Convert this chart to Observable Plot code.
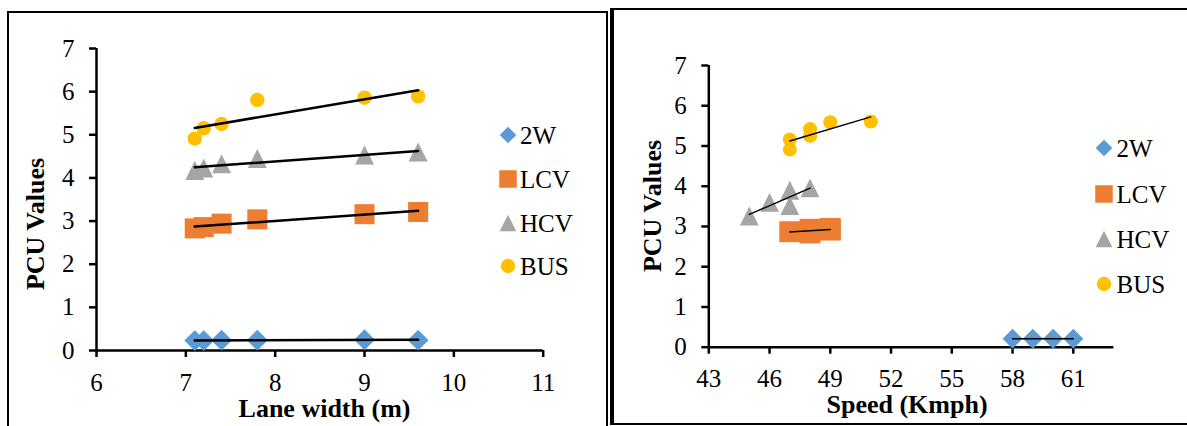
<!DOCTYPE html>
<html>
<head>
<meta charset="utf-8">
<script src="https://cdn.jsdelivr.net/npm/d3@7"></script>
<script src="https://cdn.jsdelivr.net/npm/@observablehq/plot@0.6"></script>
<style>
html, body { margin: 0; padding: 0; background: #fff; }
body { width: 1187px; height: 426px; position: relative; overflow: hidden;
       font-family: "Liberation Serif", serif; color: #000; }
.panel { position: absolute; box-sizing: border-box; border: 2px solid #000; }
.chart { position: absolute; top: 0; }
.chart svg text { font-family: "Liberation Serif", serif; }
.title { position: absolute; font-family: "Liberation Serif", serif; font-weight: bold;
         font-size: 26px; line-height: 16px; white-space: nowrap; }
.lg-row { position: absolute; height: 25px; font-family: "Liberation Serif", serif;
          font-size: 25px; line-height: 25px; white-space: nowrap; }
.lg-sym { position: absolute; overflow: visible; }
</style>
</head>
<body>
<div class="panel" style="left:7px; top:11px; width:601px; height:440px;"></div>
<div class="panel" style="left:610px; top:8px; width:620px; height:417px; border-left-width:4px;"></div>
<div id="c1" class="chart" style="left:0px;"></div>
<div id="c2" class="chart" style="left:612px;"></div>
<div class="title" style="left:324.5px; top:401.2px; transform:translateX(-50%);">Lane width (m)</div>
<div class="title" style="left:907px; top:396.9px; transform:translateX(-50%);">Speed (Kmph)</div>
<div class="title" style="left:36.2px; top:224px; transform:translate(-50%,-50%) rotate(-90deg);">PCU Values</div>
<div class="title" style="left:652.9px; top:206px; transform:translate(-50%,-50%) rotate(-90deg);">PCU Values</div>
<div id="lg1"></div>
<div id="lg2"></div>
<script>
// ---- data ----
const seriesNames = ["2W", "LCV", "HCV", "BUS"];
const seriesColors = ["#5B9BD5", "#ED7D31", "#A5A5A5", "#FFC000"];

// Chart 1: PCU vs lane width
const laneWidth = [7.1, 7.2, 7.4, 7.8, 9.0, 9.6];
const lanePCU2W  = [0.23, 0.23, 0.24, 0.24, 0.25, 0.24];
const lanePCULCV = [2.83, 2.86, 2.94, 3.04, 3.16, 3.21];
const lanePCUHCV = [4.17, 4.23, 4.33, 4.45, 4.53, 4.60];
const lanePCUBUS = [4.91, 5.15, 5.25, 5.81, 5.86, 5.89];
const laneTicks = [6, 7, 8, 9, 10, 11];

// Chart 2: PCU vs speed
const speed2W  = [58, 59, 60, 61];
const speedPCU2W  = [0.21, 0.21, 0.21, 0.21];
const speedLCV = [47, 48, 48, 49, 49];
const speedPCULCV = [2.87, 2.84, 2.93, 2.91, 2.95];
const speedHCV = [45, 46, 47, 47, 48];
const speedPCUHCV = [3.26, 3.60, 3.90, 3.52, 3.96];
const speedBUS = [47, 47, 48, 48, 49, 51];
const speedPCUBUS = [4.91, 5.16, 5.25, 5.42, 5.59, 5.61];
const speedTicks = [43, 46, 49, 52, 55, 58, 61];

const pcuTicks = [0, 1, 2, 3, 4, 5, 6, 7];

// ---- symbols ----
const triangleSym = {
  draw(ctx, size) {
    const s = Math.sqrt(size);
    ctx.moveTo(0, -s / 2);
    ctx.lineTo(s / 2, s / 2);
    ctx.lineTo(-s / 2, s / 2);
    ctx.closePath();
  }
};
const seriesSymbols = [d3.symbolDiamond2, d3.symbolSquare, triangleSym, d3.symbolCircle];

function rows(xs, ys) { return xs.map((x, i) => ({x, y: ys[i]})); }

const FONT = '"Liberation Serif", serif';

function makeChart(cfg) {
  const marks = [
    Plot.axisX({ticks: cfg.xTicks, tickFormat: (d) => String(d), tickSize: 7, tickPadding: cfg.xPad,
                strokeWidth: 2.5, fontSize: 25, fontFamily: FONT, label: null}),
    Plot.axisY({ticks: pcuTicks, tickFormat: (d) => String(d), tickSize: 7, tickPadding: 15,
                strokeWidth: 2.5, fontSize: 25, fontFamily: FONT, label: null}),
    Plot.ruleX([cfg.xDomain[0]], {stroke: "#000", strokeWidth: 2.5}),
    Plot.ruleY([0], {stroke: "#000", strokeWidth: 2.5})
  ];
  cfg.data.forEach((d, i) => {
    marks.push(Plot.dot(d, {x: "x", y: "y", fill: seriesColors[i], stroke: "none",
      symbol: seriesSymbols[i], r: cfg.radii[i]}));
  });
  cfg.data.forEach((d) => {
    marks.push(Plot.linearRegressionY(d, {x: "x", y: "y", stroke: "#000",
      strokeWidth: cfg.trendWidth, ci: 0}));
  });
  return Plot.plot({
    width: cfg.width, height: 426,
    marginLeft: cfg.marginLeft, marginRight: cfg.marginRight,
    marginTop: cfg.marginTop, marginBottom: cfg.marginBottom,
    x: {domain: cfg.xDomain, label: null},
    y: {domain: [0, 7], label: null},
    style: 'font-family: "Liberation Serif", serif; font-size: 25px; color: #000; background: transparent; overflow: visible;',
    marks
  });
}

document.getElementById("c1").appendChild(makeChart({
  width: 607, marginLeft: 96, marginRight: 64.3, marginTop: 48, marginBottom: 76,
  xDomain: [6, 11], xTicks: laneTicks, xPad: 16, trendWidth: 2.5,
  radii: [9.4, 11.3, 10.7, 7.2],
  data: [rows(laneWidth, lanePCU2W), rows(laneWidth, lanePCULCV),
         rows(laneWidth, lanePCUHCV), rows(laneWidth, lanePCUBUS)]
}));

document.getElementById("c2").appendChild(makeChart({
  width: 575, marginLeft: 96.3, marginRight: 73.7, marginTop: 65, marginBottom: 79.3,
  xDomain: [43, 63], xTicks: speedTicks, xPad: 15, trendWidth: 1.4,
  radii: [9.0, 11.8, 10.6, 7.0],
  data: [rows(speed2W, speedPCU2W), rows(speedLCV, speedPCULCV),
         rows(speedHCV, speedPCUHCV), rows(speedBUS, speedPCUBUS)]
}));

// ---- legends ----
const legendSizes = [176, 306, 279, 161];
function makeLegend(el, cx, textX, y0, step) {
  seriesNames.forEach((name, i) => {
    const cy = y0 + i * step;
    const svg = d3.create("svg").attr("class", "lg-sym")
      .attr("width", 20).attr("height", 20)
      .style("left", (cx - 10) + "px").style("top", (cy - 10) + "px");
    svg.append("path")
      .attr("transform", "translate(10,10)")
      .attr("d", d3.symbol(seriesSymbols[i], legendSizes[i])())
      .attr("fill", seriesColors[i]);
    el.appendChild(svg.node());
    const t = document.createElement("div");
    t.className = "lg-row";
    t.style.left = textX + "px";
    t.style.top = (cy - 12) + "px";
    t.textContent = name;
    el.appendChild(t);
  });
}
makeLegend(document.getElementById("lg1"), 508.3, 520, 135, 43.8);
makeLegend(document.getElementById("lg2"), 1104.3, 1116.5, 148.3, 45.3);
</script>
</body>
</html>
